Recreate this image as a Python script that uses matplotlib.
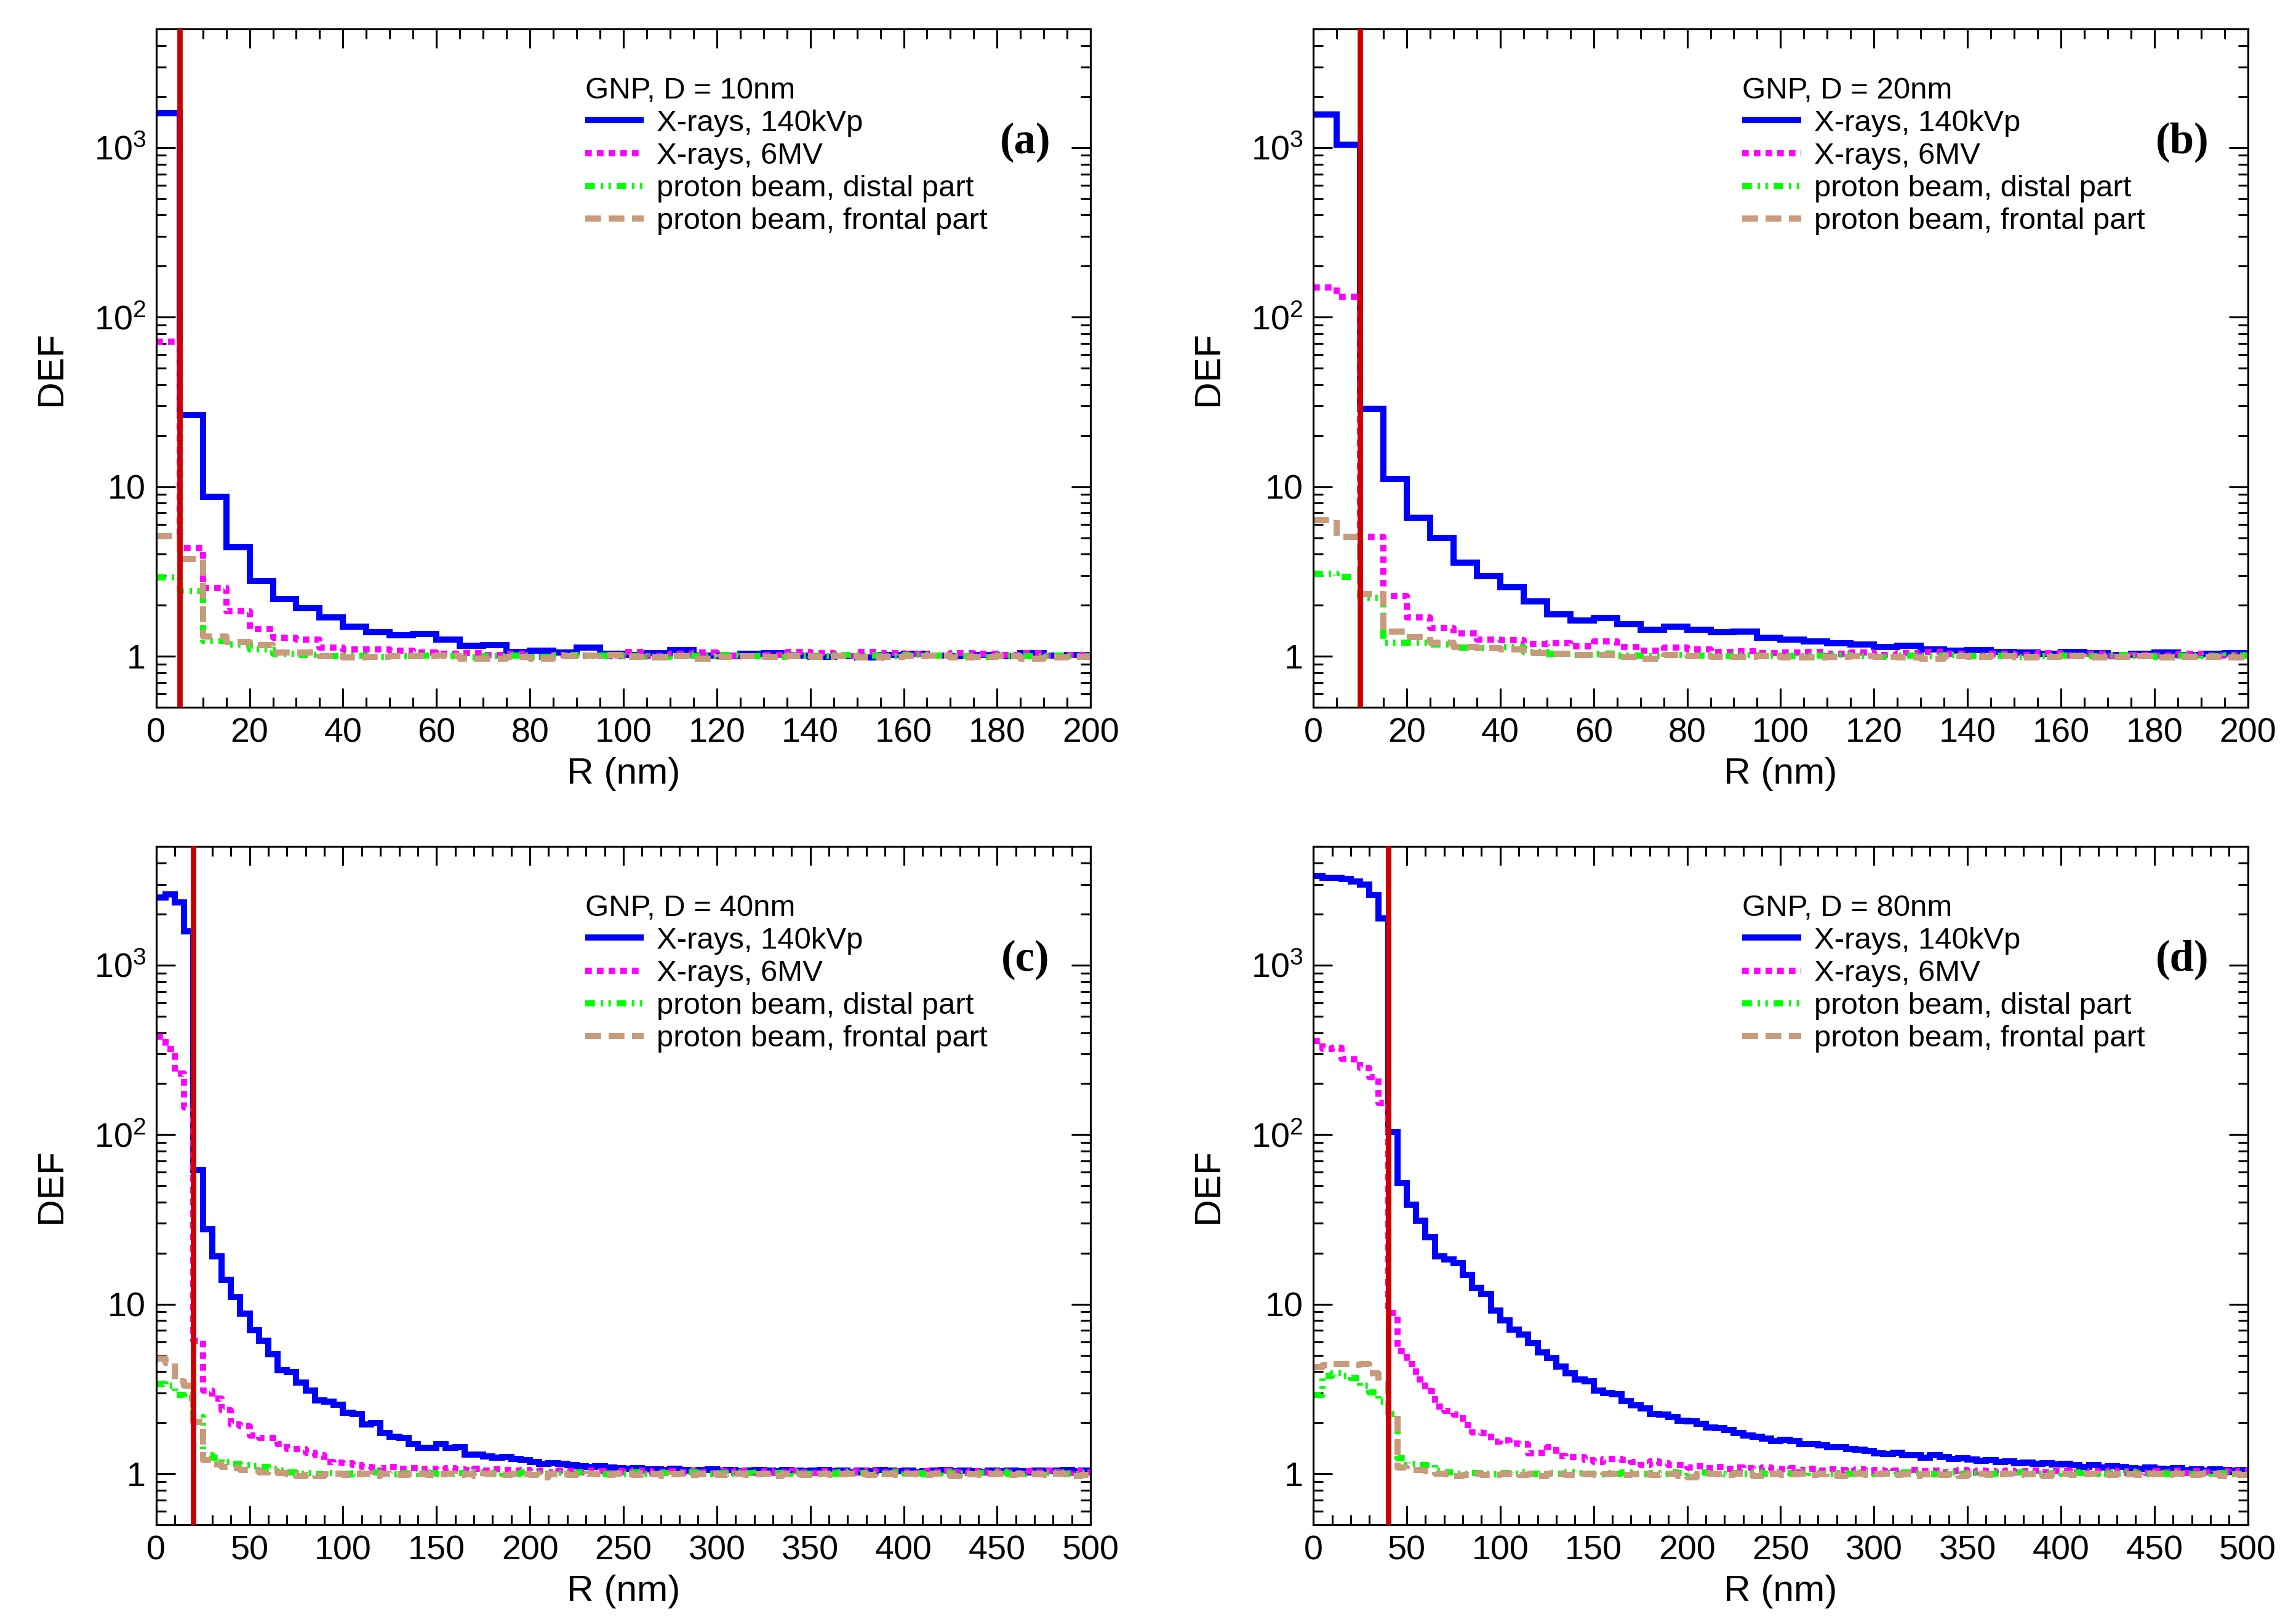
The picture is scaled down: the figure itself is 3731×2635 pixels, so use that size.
import numpy as np
import matplotlib
matplotlib.use('Agg')
import matplotlib.pyplot as plt
from matplotlib.ticker import MultipleLocator, LogLocator, FixedLocator, FixedFormatter, NullFormatter

plt.rcParams['font.family'] = ['Liberation Sans', 'DejaVu Sans']
plt.rcParams['mathtext.fontset'] = 'custom'
plt.rcParams['mathtext.rm'] = 'Liberation Sans'
plt.rcParams['mathtext.it'] = 'Liberation Sans:italic'
plt.rcParams['mathtext.bf'] = 'Liberation Sans:bold'

# ---- data: DEF per 5 nm radial bin ----
bin_width = 5

# (a) D = 10 nm, R = 0..200
blue_a = [1590, 26.5, 8.7, 4.4, 2.78, 2.18, 1.92, 1.69, 1.49, 1.39,
          1.33, 1.35, 1.25, 1.15, 1.16, 1.06, 1.08, 1.05, 1.12, 1.03,
          1.02, 1.04, 1.09, 1.01, 1.00, 1.03, 1.04, 1.01, 0.99, 1.00,
          0.98, 1.02, 1.03, 1.01, 1.00, 1.02, 1.00, 1.04, 1.01, 1.02]
magenta_a = [72, 4.35, 2.53, 1.84, 1.45, 1.29, 1.25, 1.12, 1.10, 1.10,
             1.08, 1.05, 1.03, 1.04, 1.02, 1.03, 0.99, 1.02, 1.01, 1.00,
             1.06, 1.00, 1.03, 1.05, 1.01, 1.00, 1.02, 1.06, 1.04, 1.00,
             1.06, 1.04, 1.03, 1.01, 1.04, 1.03, 1.02, 1.04, 1.01, 1.02]
green_a = [2.91, 2.42, 1.23, 1.17, 1.10, 1.03, 1.02, 1.00, 1.01, 0.99,
           1.00, 1.01, 1.00, 0.98, 1.00, 1.01, 0.99, 1.02, 1.00, 1.01,
           1.00, 0.99, 1.01, 1.00, 1.02, 1.00, 0.99, 1.01, 1.00, 1.02,
           1.01, 1.00, 1.02, 1.01, 1.00, 0.99, 1.01, 1.00, 1.01, 1.00]
tan_a = [5.1, 3.76, 1.31, 1.21, 1.16, 1.05, 1.05, 1.00, 0.98, 0.99,
         1.00, 1.00, 1.01, 0.97, 0.97, 0.99, 0.97, 1.00, 1.01, 1.02,
         0.99, 0.98, 1.00, 0.97, 0.99, 1.00, 0.99, 1.00, 0.99, 1.00,
         0.98, 0.99, 1.00, 1.01, 0.98, 0.99, 1.00, 0.97, 0.98, 0.99]

# (b) D = 20 nm, R = 0..200
blue_b = [1573, 1044, 28.8, 11.1, 6.55, 5.0, 3.57, 2.97, 2.55, 2.11,
          1.77, 1.63, 1.68, 1.54, 1.43, 1.49, 1.43, 1.38, 1.40, 1.29,
          1.25, 1.22, 1.19, 1.17, 1.13, 1.15, 1.10, 1.08, 1.09, 1.06,
          1.05, 1.03, 1.06, 1.04, 1.02, 1.03, 1.05, 1.02, 1.03, 1.04]
magenta_b = [150, 132, 5.07, 2.26, 1.70, 1.47, 1.36, 1.25, 1.24, 1.18,
             1.19, 1.14, 1.22, 1.13, 1.08, 1.12, 1.10, 1.06, 1.07, 1.04,
             1.05, 1.06, 1.03, 1.05, 1.02, 1.04, 1.06, 1.03, 1.01, 1.03,
             1.02, 1.04, 1.01, 1.03, 1.00, 1.02, 1.01, 1.03, 1.01, 1.02]
green_b = [3.07, 2.95, 2.22, 1.20, 1.20, 1.17, 1.12, 1.11, 1.13, 1.06,
           1.03, 1.02, 1.03, 1.01, 1.00, 1.02, 1.01, 1.00, 1.02, 1.01,
           1.00, 1.01, 1.02, 1.00, 0.99, 1.01, 1.00, 1.02, 1.00, 1.01,
           0.99, 1.00, 1.01, 1.00, 1.02, 1.00, 0.99, 1.01, 1.00, 1.01]
tan_b = [6.36, 5.07, 2.33, 1.40, 1.30, 1.20, 1.13, 1.11, 1.10, 1.04,
         1.03, 1.02, 1.02, 0.99, 0.97, 1.02, 1.00, 0.99, 0.99, 1.00,
         0.98, 0.98, 0.99, 1.00, 0.99, 0.98, 0.97, 1.00, 0.99, 1.00,
         0.98, 0.99, 1.00, 0.98, 0.99, 1.00, 0.98, 0.99, 0.99, 0.98]

# (c) D = 40 nm, R = 0..500
blue_c = [2506, 2620, 2344, 1585, 61.6, 27.6, 19.1, 13.9, 11.0, 8.8,
          7.0, 6.1, 5.07, 4.09, 3.97, 3.44, 3.1, 2.7, 2.67, 2.55,
          2.29, 2.25, 1.96, 1.98, 1.73, 1.65, 1.63, 1.49, 1.42, 1.42,
          1.49, 1.42, 1.43, 1.30, 1.30, 1.26, 1.24, 1.25, 1.22, 1.20,
          1.17, 1.14, 1.15, 1.14, 1.12, 1.11, 1.10, 1.11, 1.09, 1.08,
          1.07, 1.08, 1.06, 1.06, 1.05, 1.07, 1.05, 1.04, 1.05, 1.06,
          1.04, 1.05, 1.03, 1.04, 1.05, 1.04, 1.03, 1.05, 1.04, 1.03,
          1.04, 1.05, 1.03, 1.04, 1.02, 1.04, 1.03, 1.05, 1.04, 1.03,
          1.04, 1.02, 1.03, 1.04, 1.05, 1.03, 1.04, 1.03, 1.02, 1.04,
          1.03, 1.04, 1.03, 1.02, 1.04, 1.03, 1.04, 1.05, 1.03, 1.04]
magenta_c = [380, 320, 230, 145, 6.1, 3.1, 2.78, 2.36, 1.96, 1.90,
             1.68, 1.63, 1.63, 1.49, 1.40, 1.40, 1.33, 1.28, 1.17, 1.16,
             1.15, 1.12, 1.10, 1.09, 1.08, 1.10, 1.07, 1.08, 1.06, 1.07,
             1.05, 1.08, 1.06, 1.05, 1.07, 1.04, 1.06, 1.05, 1.04, 1.05,
             1.03, 1.04, 1.02, 1.04, 1.03, 1.02, 1.04, 1.03, 1.01, 1.03,
             1.02, 1.04, 1.03, 1.01, 1.02, 1.03, 1.02, 1.04, 1.02, 1.01,
             1.03, 1.02, 1.04, 1.01, 1.02, 1.03, 1.01, 1.02, 1.04, 1.02,
             1.01, 1.03, 1.02, 1.01, 1.03, 1.02, 1.04, 1.01, 1.02, 1.03,
             1.02, 1.01, 1.03, 1.02, 1.04, 1.02, 1.01, 1.03, 1.02, 1.01,
             1.03, 1.02, 1.01, 1.03, 1.02, 1.04, 1.02, 1.01, 1.03, 1.02]
green_c = [3.40, 3.30, 2.92, 2.80, 2.15, 1.28, 1.24, 1.17, 1.14, 1.12,
           1.11, 1.10, 1.06, 1.04, 1.02, 1.00, 1.01, 0.99, 1.01, 1.00,
           0.99, 1.01, 1.00, 1.02, 1.00, 0.99, 1.01, 1.00, 1.02, 1.01,
           1.00, 0.99, 1.01, 1.00, 1.02, 1.00, 1.01, 0.99, 1.00, 1.02,
           1.01, 1.00, 0.99, 1.01, 1.00, 1.02, 1.01, 1.00, 0.99, 1.01,
           1.00, 1.02, 1.00, 0.99, 1.01, 1.00, 1.01, 1.02, 1.00, 0.99,
           1.01, 1.00, 1.02, 1.01, 0.99, 1.00, 1.01, 1.00, 1.02, 1.00,
           0.99, 1.01, 1.00, 1.02, 1.00, 1.01, 0.99, 1.00, 1.01, 1.02,
           1.00, 1.01, 0.99, 1.00, 1.02, 1.01, 1.00, 0.99, 1.01, 1.00,
           1.02, 1.00, 1.01, 0.99, 1.00, 1.01, 1.02, 1.00, 0.99, 1.01]
tan_c = [4.77, 4.50, 3.50, 3.30, 2.02, 1.20, 1.13, 1.10, 1.08, 1.05,
         1.05, 1.02, 1.03, 1.01, 0.99, 0.97, 0.98, 0.97, 0.99, 1.00,
         0.98, 0.99, 1.00, 0.97, 1.00, 0.99, 0.98, 1.00, 0.99, 0.98,
         0.99, 1.00, 0.98, 0.99, 0.97, 1.00, 0.99, 0.98, 1.00, 0.99,
         0.98, 0.95, 0.99, 1.00, 0.98, 0.99, 1.00, 0.99, 0.98, 1.00,
         0.99, 0.98, 1.00, 0.99, 0.97, 0.99, 1.00, 0.98, 0.99, 1.00,
         0.98, 0.99, 1.00, 0.98, 0.99, 1.00, 0.97, 0.99, 1.00, 0.98,
         0.99, 1.00, 0.98, 0.99, 1.00, 0.99, 0.98, 1.00, 0.99, 0.98,
         1.00, 0.99, 0.98, 1.00, 0.99, 0.97, 1.00, 0.99, 0.98, 0.99,
         1.00, 0.98, 0.99, 1.00, 0.99, 0.98, 1.00, 0.99, 0.97, 0.98]

# (d) D = 80 nm, R = 0..500
blue_d = [3355, 3290, 3290, 3230, 3125, 2990, 2600, 1890, 104, 51.8,
          38.8, 31, 24.8, 19.2, 18.4, 17.5, 14.9, 12.5, 11.5, 9.2,
          8.0, 7.06, 6.6, 5.9, 5.2, 4.8, 4.29, 3.9, 3.59, 3.5,
          3.08, 2.98, 2.93, 2.69, 2.54, 2.42, 2.26, 2.24, 2.15, 2.06,
          2.04, 1.97, 1.87, 1.86, 1.81, 1.73, 1.68, 1.65, 1.61, 1.56,
          1.59, 1.56, 1.50, 1.50, 1.47, 1.43, 1.43, 1.40, 1.38, 1.36,
          1.32, 1.31, 1.33, 1.29, 1.28, 1.24, 1.28, 1.25, 1.22, 1.23,
          1.21, 1.19, 1.20, 1.17, 1.18, 1.15, 1.16, 1.14, 1.15, 1.13,
          1.14, 1.12, 1.10, 1.12, 1.09, 1.11, 1.10, 1.08, 1.07, 1.09,
          1.07, 1.06, 1.08, 1.05, 1.06, 1.04, 1.06, 1.05, 1.04, 1.05]
magenta_d = [356, 320, 325, 281, 277, 248, 218, 153, 8.9, 5.26,
             4.43, 3.59, 3.06, 2.49, 2.34, 2.24, 1.93, 1.75, 1.74, 1.54,
             1.57, 1.51, 1.50, 1.32, 1.33, 1.43, 1.27, 1.25, 1.25, 1.20,
             1.17, 1.22, 1.22, 1.20, 1.17, 1.12, 1.18, 1.15, 1.12, 1.12,
             1.09, 1.11, 1.08, 1.10, 1.07, 1.09, 1.08, 1.06, 1.09, 1.07,
             1.06, 1.08, 1.05, 1.07, 1.04, 1.06, 1.05, 1.03, 1.06, 1.04,
             1.05, 1.03, 1.04, 1.02, 1.05, 1.03, 1.04, 1.02, 1.03, 1.05,
             1.02, 1.04, 1.03, 1.01, 1.04, 1.02, 1.03, 1.04, 1.02, 1.03,
             1.04, 1.02, 1.01, 1.03, 1.02, 1.04, 1.01, 1.03, 1.02, 1.01,
             1.03, 1.02, 1.04, 1.01, 1.03, 1.02, 1.01, 1.03, 1.02, 1.04]
green_d = [2.92, 3.77, 3.90, 3.77, 3.66, 3.32, 3.02, 2.66, 2.26, 1.23,
           1.14, 1.12, 1.12, 1.04, 1.02, 1.00, 0.99, 1.01, 1.00, 0.99,
           1.01, 1.00, 1.02, 1.00, 0.99, 1.01, 1.00, 1.02, 1.01, 1.00,
           0.99, 1.01, 1.00, 1.02, 1.00, 0.99, 1.01, 1.00, 1.02, 1.01,
           1.00, 1.02, 1.01, 1.00, 0.99, 1.01, 1.00, 1.02, 1.00, 0.99,
           1.01, 1.00, 1.02, 1.01, 1.00, 0.99, 1.01, 1.00, 1.02, 1.00,
           0.99, 1.01, 1.00, 1.02, 1.01, 1.00, 0.99, 1.01, 1.02, 1.00,
           1.01, 1.00, 0.99, 1.01, 1.00, 1.02, 1.01, 1.00, 0.99, 1.01,
           1.00, 1.02, 1.01, 0.99, 1.00, 1.01, 1.00, 1.02, 1.00, 0.99,
           1.01, 1.00, 1.02, 1.00, 0.99, 1.01, 1.00, 1.01, 0.99, 1.00]
tan_d = [4.24, 4.35, 4.43, 4.43, 4.40, 4.43, 3.90, 3.54, 2.26, 1.09,
         1.05, 1.05, 1.03, 1.00, 0.99, 0.97, 0.98, 1.00, 0.98, 0.98,
         0.99, 1.00, 0.98, 0.99, 0.97, 1.00, 0.99, 0.98, 1.00, 0.99,
         0.98, 0.99, 1.00, 0.98, 0.99, 1.00, 0.98, 0.99, 1.00, 0.97,
         0.95, 0.99, 1.00, 0.99, 0.98, 1.00, 0.99, 0.97, 0.99, 1.00,
         0.98, 0.99, 1.00, 0.98, 0.99, 1.00, 0.97, 0.99, 1.00, 0.98,
         0.99, 1.00, 0.98, 0.99, 0.97, 0.99, 1.00, 0.98, 0.99, 0.97,
         0.99, 1.00, 0.98, 0.99, 1.00, 0.98, 0.99, 1.00, 0.97, 0.99,
         1.00, 0.98, 0.99, 1.00, 0.99, 0.98, 1.00, 0.99, 0.98, 1.00,
         0.99, 0.98, 1.00, 0.99, 0.98, 1.00, 0.99, 0.97, 0.99, 0.98]

diameters = [10, 20, 40, 80]
x_max = [200, 200, 500, 500]
panel_tags = ['(a)', '(b)', '(c)', '(d)']
series_labels = ['X-rays, 140kVp', 'X-rays, 6MV',
                 'proton beam, distal part', 'proton beam, frontal part']
panels = [(blue_a, magenta_a, green_a, tan_a),
          (blue_b, magenta_b, green_b, tan_b),
          (blue_c, magenta_c, green_c, tan_c),
          (blue_d, magenta_d, green_d, tan_d)]

# styles
colors = ['#0000FF', '#FF00FF', '#00FF00', '#C89B7C']
dash_styles = [None, (1.07, 0.83), (1.57, 0.93, 0.4, 0.87, 0.4, 0.93), (2.57, 1.23)]
lw = 2.4

fig = plt.figure(figsize=(3731 / 300, 2635 / 300), dpi=300)
axes_pos = [[0.068, 0.564, 0.407, 0.418],
            [0.572, 0.564, 0.407, 0.418],
            [0.068, 0.060, 0.407, 0.418],
            [0.572, 0.060, 0.407, 0.418]]

for i, pos in enumerate(axes_pos):
    ax = fig.add_axes(pos)
    for vals, col, dsh, lab in zip(panels[i], colors, dash_styles, series_labels):
        edges = np.arange(0, len(vals) + 1) * bin_width
        yy = list(vals) + [vals[-1]]
        line, = ax.plot(edges, yy, drawstyle='steps-post', color=col, lw=lw,
                        label=lab, solid_capstyle='butt', solid_joinstyle='miter')
        if dsh is not None:
            line.set_dashes(dsh)
    ax.axvline(diameters[i] / 2, color='#CC0000', lw=2.1, zorder=5)

    ax.set_yscale('log')
    ax.set_ylim(0.5, 5000)
    ax.set_xlim(0, x_max[i])

    if x_max[i] == 200:
        ax.xaxis.set_major_locator(MultipleLocator(20))
        ax.xaxis.set_minor_locator(MultipleLocator(5))
    else:
        ax.xaxis.set_major_locator(MultipleLocator(50))
        ax.xaxis.set_minor_locator(MultipleLocator(10))

    ax.yaxis.set_major_locator(FixedLocator([1, 10, 100, 1000]))
    ax.yaxis.set_major_formatter(FixedFormatter(
        ['1', '10', r'$\mathregular{10^{2}}$', r'$\mathregular{10^{3}}$']))
    ax.yaxis.set_minor_locator(LogLocator(base=10, subs=np.arange(2, 10), numticks=20))
    ax.yaxis.set_minor_formatter(NullFormatter())

    ax.tick_params(which='both', direction='in', top=True, right=True, width=0.75)
    ax.tick_params(which='major', length=7.4, labelsize=13.4, pad=4)
    ax.tick_params(which='minor', length=3.8)
    for sp in ax.spines.values():
        sp.set_linewidth(0.75)

    ax.set_xlabel('R (nm)', fontsize=14.5, labelpad=3)
    ax.set_ylabel('DEF', fontsize=14.5, labelpad=10)

    leg = ax.legend(loc='upper left', bbox_to_anchor=(0.459, 0.93),
                    title=f'GNP, D = {diameters[i]}nm', frameon=False,
                    fontsize=11.8, title_fontsize=11.8, alignment='left',
                    handlelength=1.94, handletextpad=0.43, labelspacing=0.165,
                    borderpad=0, borderaxespad=0)

    ax.text(0.930, 0.833, panel_tags[i], transform=ax.transAxes,
            fontsize=17, fontweight='bold', family='Liberation Serif',
            ha='center', va='center')

fig.savefig('out.png', dpi=300)
